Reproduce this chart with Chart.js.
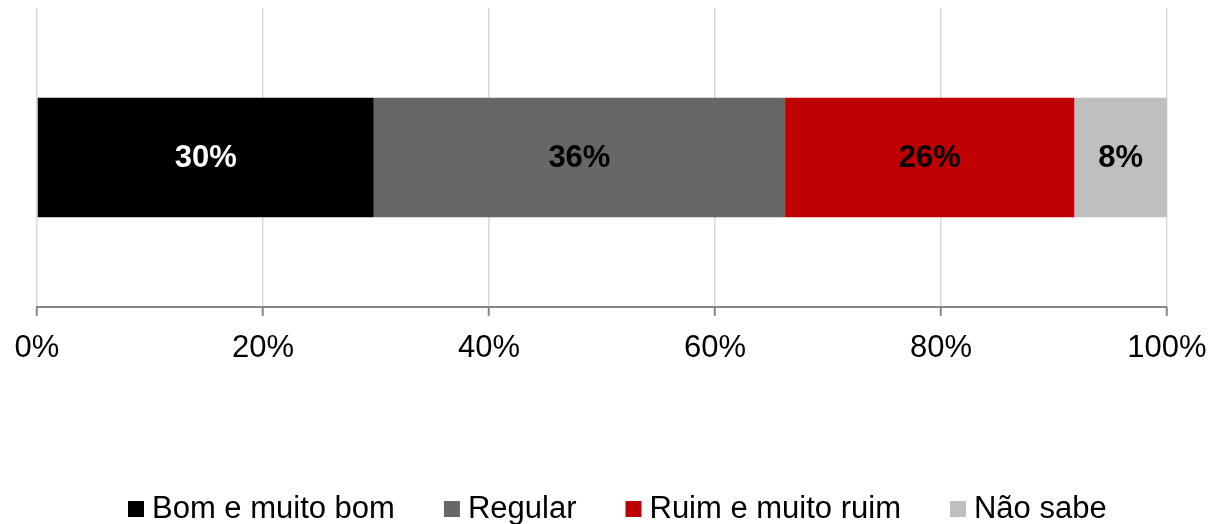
<!DOCTYPE html>
<html>
<head>
<meta charset="utf-8">
<script src="https://cdn.jsdelivr.net/npm/chart.js@4/dist/chart.umd.min.js"></script>
<style>
  html, body { margin: 0; padding: 0; background: #fff; }
  #wrap { width: 1213px; height: 524px; position: relative; }
</style>
</head>
<body>
<div id="wrap"><canvas id="c" width="1213" height="524"></canvas></div>
<script>
const categories = [''];
const seriesNames = ['Bom e muito bom', 'Regular', 'Ruim e muito ruim', 'Não sabe'];
const bomValues = [29.8];
const regularValues = [36.4];
const ruimValues = [25.6];
const naoSabeValues = [8.2];
const seriesColors = ['#000000', '#676767', '#C00000', '#BFBFBF'];
const labelColors = ['#FFFFFF', '#000000', '#000000', '#000000'];
const tickValues = [0, 20, 40, 60, 80, 100];

const FONT = "'Liberation Sans', Arial, sans-serif";

const valueLabels = {
  id: 'valueLabels',
  afterDatasetsDraw(chart) {
    const ctx = chart.ctx;
    ctx.save();
    ctx.font = 'bold 31px ' + FONT;
    ctx.textAlign = 'center';
    ctx.textBaseline = 'middle';
    chart.data.datasets.forEach((ds, i) => {
      const meta = chart.getDatasetMeta(i);
      meta.data.forEach((el, j) => {
        const v = ds.data[j];
        ctx.fillStyle = labelColors[i];
        ctx.fillText(Math.round(v) + '%', (el.x + el.base) / 2, el.y + 1);
      });
    });
    ctx.restore();
  }
};

const customLegend = {
  id: 'customLegend',
  afterDraw(chart) {
    const ctx = chart.ctx;
    ctx.save();
    ctx.font = '31px ' + FONT;
    ctx.textBaseline = 'alphabetic';
    ctx.textAlign = 'left';
    let x = 128;
    const box = 16, boxTop = 501, baseline = 518, textOffset = 24, gap = 49;
    chart.data.datasets.forEach((ds, i) => {
      ctx.fillStyle = ds.backgroundColor;
      ctx.fillRect(x, boxTop, box, box);
      ctx.fillStyle = '#000000';
      ctx.fillText(ds.label, x + textOffset, baseline);
      x += textOffset + ctx.measureText(ds.label).width + gap;
    });
    ctx.restore();
  }
};

const seriesData = [bomValues, regularValues, ruimValues, naoSabeValues];

new Chart(document.getElementById('c'), {
  type: 'bar',
  data: {
    labels: categories,
    datasets: seriesNames.map((n, i) => ({
      label: n,
      data: seriesData[i],
      backgroundColor: seriesColors[i],
      borderWidth: 0,
      categoryPercentage: 0.4,
      barPercentage: 1.0
    }))
  },
  options: {
    indexAxis: 'y',
    responsive: false,
    animation: false,
    devicePixelRatio: 1,
    layout: { padding: { top: 8, left: 37, right: 46, bottom: 143 } },
    plugins: { legend: { display: false }, tooltip: { enabled: false } },
    scales: {
      x: {
        stacked: true,
        min: 0,
        max: 100,
        afterBuildTicks(axis) { axis.ticks = tickValues.map(v => ({ value: v })); },
        afterFit(axis) { axis.paddingLeft = 0; axis.paddingRight = 0; },
        ticks: {
          callback: v => v + '%',
          color: '#000000',
          font: { family: FONT, size: 31 },
          padding: 14,
          maxRotation: 0
        },
        grid: {
          color: '#D9D9D9',
          lineWidth: 1.5,
          tickLength: 9,
          tickColor: '#868686',
          tickWidth: 2
        },
        border: { color: '#868686', width: 2 }
      },
      y: {
        stacked: true,
        display: false
      }
    }
  },
  plugins: [valueLabels, customLegend]
});
</script>
</body>
</html>
